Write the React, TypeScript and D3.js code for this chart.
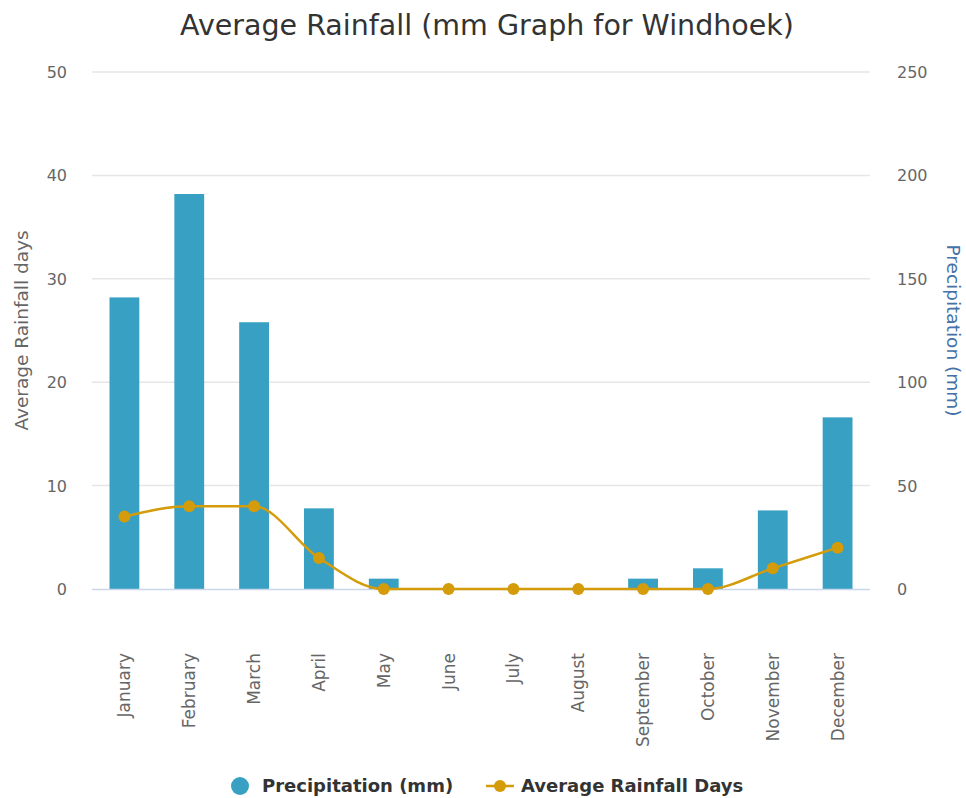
import React, { useRef, useEffect } from 'react';
import * as d3 from 'd3';

const months = ['January', 'February', 'March', 'April', 'May', 'June', 'July', 'August', 'September', 'October', 'November', 'December'];
const precipitation = [141, 191, 129, 39, 5, 0, 0, 0, 5, 10, 38, 83];
const rainfallDays = [7, 8, 8, 3, 0, 0, 0, 0, 0, 0, 2, 4];
const leftTicks = [0, 10, 20, 30, 40, 50];
const rightTicks = [0, 50, 100, 150, 200, 250];

const W = 966;
const H = 798;
const FONT = '"DejaVu Sans", Verdana, sans-serif';

const App: React.FC = () => {
  const svgRef = useRef<SVGSVGElement | null>(null);

  useEffect(() => {
    if (!svgRef.current) return;
    const svg = d3.select(svgRef.current);
    svg.selectAll('*').remove();

    const left = 92, right = 870, top = 72, bottom = 589;

    const x = d3.scaleBand<string>().domain(months).range([left, right]).paddingInner(0.54).paddingOuter(0.27);
    const xc = (m: string) => (x(m) || 0) + x.bandwidth() / 2;
    const yL = d3.scaleLinear().domain([0, 50]).range([bottom, top]);
    const yR = d3.scaleLinear().domain([0, 250]).range([bottom, top]);

    // title
    svg.append('text')
      .attr('x', 487).attr('y', 35)
      .attr('text-anchor', 'middle')
      .attr('font-family', FONT).attr('font-size', 28.5)
      .attr('fill', '#333')
      .text('Average Rainfall (mm Graph for Windhoek)');

    // grid
    svg.append('g').selectAll('line')
      .data(leftTicks.filter(t => t > 0))
      .enter().append('line')
      .attr('x1', left).attr('x2', right)
      .attr('y1', d => yL(d)).attr('y2', d => yL(d))
      .attr('stroke', '#e6e6e6').attr('stroke-width', 1.5);

    // left axis labels
    svg.append('g').selectAll('text')
      .data(leftTicks).enter().append('text')
      .attr('x', 67).attr('y', d => yL(d) + 6)
      .attr('text-anchor', 'end')
      .attr('font-family', FONT).attr('font-size', 16).attr('fill', '#666')
      .text(d => d);

    // right axis labels
    svg.append('g').selectAll('text')
      .data(rightTicks).enter().append('text')
      .attr('x', 897).attr('y', d => yR(d) + 6)
      .attr('text-anchor', 'start')
      .attr('font-family', FONT).attr('font-size', 16).attr('fill', '#666')
      .text(d => d);

    // axis titles
    svg.append('text')
      .attr('transform', `translate(28, ${(top + bottom) / 2}) rotate(-90)`)
      .attr('text-anchor', 'middle')
      .attr('font-family', FONT).attr('font-size', 18.5).attr('fill', '#666')
      .text('Average Rainfall days');
    svg.append('text')
      .attr('transform', `translate(947, ${(top + bottom) / 2}) rotate(90)`)
      .attr('text-anchor', 'middle')
      .attr('font-family', FONT).attr('font-size', 18.5).attr('fill', '#4572A7')
      .text('Precipitation (mm)');

    // bars
    svg.append('g').selectAll('rect')
      .data(precipitation).enter().append('rect')
      .attr('x', (_, i) => x(months[i]) || 0)
      .attr('width', x.bandwidth())
      .attr('y', d => yR(d))
      .attr('height', d => bottom - yR(d))
      .attr('fill', '#37A0C3');

    // baseline
    svg.append('line')
      .attr('x1', left).attr('x2', right)
      .attr('y1', bottom + 0.5).attr('y2', bottom + 0.5)
      .attr('stroke', '#ccd6eb').attr('stroke-width', 1.5);

    // x labels
    svg.append('g').selectAll('text')
      .data(months).enter().append('text')
      .attr('transform', d => `translate(${xc(d) + 6}, 653) rotate(-90)`)
      .attr('text-anchor', 'end')
      .attr('font-family', FONT).attr('font-size', 17).attr('fill', '#666')
      .text(d => d);

    // line
    const line = d3.line<number>()
      .x((_, i) => xc(months[i]))
      .y(d => yL(d))
      .curve(d3.curveMonotoneX);
    svg.append('path')
      .datum(rainfallDays)
      .attr('fill', 'none')
      .attr('stroke', '#D49B0B')
      .attr('stroke-width', 2.5)
      .attr('d', line);
    svg.append('g').selectAll('circle')
      .data(rainfallDays).enter().append('circle')
      .attr('cx', (_, i) => xc(months[i]))
      .attr('cy', d => yL(d))
      .attr('r', 6)
      .attr('fill', '#D49B0B');

    // legend
    const lg = svg.append('g');
    lg.append('circle').attr('cx', 240).attr('cy', 786).attr('r', 9).attr('fill', '#37A0C3');
    lg.append('text').attr('x', 262).attr('y', 792)
      .attr('font-family', FONT).attr('font-size', 18).attr('font-weight', 'bold').attr('fill', '#333')
      .text('Precipitation (mm)');
    lg.append('line').attr('x1', 486).attr('x2', 514).attr('y1', 786).attr('y2', 786)
      .attr('stroke', '#D49B0B').attr('stroke-width', 2.5);
    lg.append('circle').attr('cx', 500).attr('cy', 786).attr('r', 6).attr('fill', '#D49B0B');
    lg.append('text').attr('x', 521).attr('y', 792)
      .attr('font-family', FONT).attr('font-size', 18).attr('font-weight', 'bold').attr('fill', '#333')
      .text('Average Rainfall Days');
  }, []);

  return <svg ref={svgRef} width={W} height={H} style={{ display: 'block', position: 'absolute', left: 0, top: 0, background: '#fff' }}></svg>;
};

export default App;
